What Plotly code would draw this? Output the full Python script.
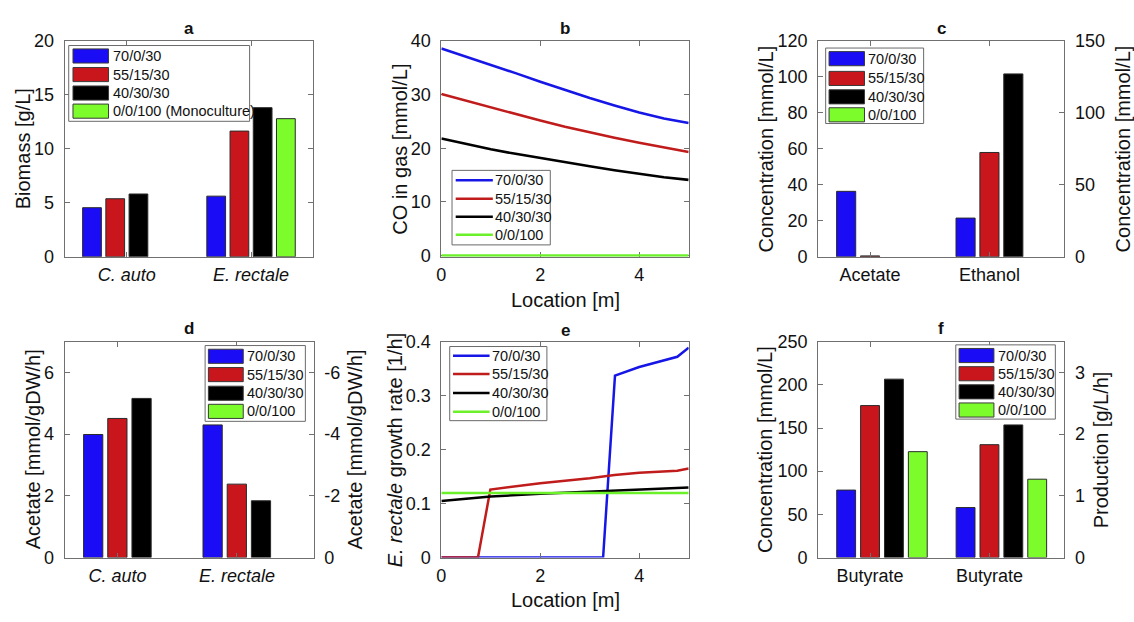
import plotly.graph_objects as go

W, H = 1134, 622
FONT = "Liberation Sans, Arial, Helvetica, sans-serif"

# ---------------- data ----------------
series_labels = ["70/0/30", "55/15/30", "40/30/30", "0/0/100"]
bar_colors = ["#1a0cf5", "#c8161c", "#000000", "#7cfc2a"]
line_colors = ["#1616e6", "#c01c1c", "#000000", "#6cf02a"]

# (a) biomass [g/L]
a_categories = ["C. auto", "E. rectale"]
a_70_0_30 = [4.55, 5.62]
a_55_15_30 = [5.38, 11.65]
a_40_30_30 = [5.82, 13.82]
a_0_0_100 = [None, 12.8]

# (b) CO in gas [mmol/L] vs location [m]
b_location = [0, 0.5, 1, 1.5, 2, 2.5, 3, 3.5, 4, 4.5, 5]
b_70_0_30 = [38.6, 37.1, 35.6, 34.0, 32.4, 30.85, 29.35, 27.95, 26.65, 25.55, 24.7]
b_55_15_30 = [30.1, 28.85, 27.6, 26.35, 25.15, 24.0, 22.95, 21.95, 21.0, 20.1, 19.3]
b_40_30_30 = [21.8, 20.75, 19.8, 18.95, 18.15, 17.4, 16.65, 15.9, 15.2, 14.6, 14.1]
b_0_0_100 = [0, 0, 0, 0, 0, 0, 0, 0, 0, 0, 0]

# (c) concentration [mmol/L]: acetate (left axis), ethanol (right axis)
c_categories = ["Acetate", "Ethanol"]
c_acetate = [36.4, 0.5, None, None]
c_ethanol = [26.9, 72.5, 127.1, None]

# (d) acetate flux [mmol/gDW/h]: C. auto (left), E. rectale (right, uptake)
d_categories = ["C. auto", "E. rectale"]
d_c_auto = [3.99, 4.51, 5.16, None]
d_e_rectale = [-4.30, -2.38, -1.84, None]

# (e) E. rectale growth rate [1/h] vs location [m]
e_x_70_0_30 = [0, 3.27, 3.51, 4.0, 4.77, 5.0]
e_y_70_0_30 = [0, 0, 0.337, 0.353, 0.372, 0.389]
e_x_55_15_30 = [0, 0.74, 0.99, 2, 3, 3.5, 4, 4.77, 5]
e_y_55_15_30 = [0, 0, 0.126, 0.1375, 0.147, 0.153, 0.157, 0.161, 0.165]
e_x_40_30_30 = [0, 1, 2, 3, 3.5, 4, 5]
e_y_40_30_30 = [0.1046, 0.113, 0.118, 0.122, 0.124, 0.1256, 0.1297]
e_x_0_0_100 = [0, 5]
e_y_0_0_100 = [0.1196, 0.1196]

# (f) butyrate: concentration [mmol/L] (left) and production [g/L/h] (right)
f_categories = ["Butyrate", "Butyrate"]
f_concentration = [78.1, 176.0, 206.6, 122.6]
f_production = [0.81, 1.83, 2.15, 1.27]

# ---------------- layout helpers ----------------
cols = [(60, 309.5), (438.3, 686.7), (816.7, 1064)]
rows = [(32, 255), (342.7, 565.7)]


def fx(p):
    return p / W


def fy(p):
    return 1 - p / H


def dom_x(c):
    return [fx(c[0]), fx(c[1])]


def dom_y(r):
    return [fy(r[1]), fy(r[0])]


AX = "#707070"
TICKFONT = dict(family=FONT, size=18, color="#111111")
base = dict(showline=True, linecolor=AX, linewidth=1, ticks="inside", ticklen=5,
            tickcolor=AX, tickwidth=1, showgrid=False, zeroline=False,
            tickfont=TICKFONT, fixedrange=True)
XSO = 2  # x tick label standoff
YSO = 6  # y tick label standoff

fig = go.Figure()
layout = dict(width=W, height=H, margin=dict(l=0, r=0, t=0, b=0),
              paper_bgcolor="white", plot_bgcolor="white", barmode="overlay",
              showlegend=False, font=dict(family=FONT))
shapes = []
annotations = []


def bar_group(xval, values, xaxis, yaxis, slot, width):
    n = 4
    for i, v in enumerate(values):
        if v is None:
            continue
        off = (i - (n - 1) / 2) * slot - width / 2
        fig.add_trace(go.Bar(x=[xval], y=[v], xaxis=xaxis, yaxis=yaxis,
                             offset=off, width=width,
                             marker=dict(color=bar_colors[i], line=dict(color="#2a2a2a", width=1)),
                             showlegend=False, hoverinfo="skip"))


def legend(box, row_centers, sym_x, text_x, labels, colors, kind):
    l, t, r, b = box
    shapes.append(dict(type="rect", xref="paper", yref="paper", x0=fx(l), x1=fx(r),
                       y0=fy(b), y1=fy(t), fillcolor="white", line=dict(color="#6a6a6a", width=1),
                       layer="above"))
    for yc, lab, col in zip(row_centers, labels, colors):
        if kind == "patch":
            shapes.append(dict(type="rect", xref="paper", yref="paper", x0=fx(sym_x[0]), x1=fx(sym_x[1]),
                               y0=fy(yc + 7.3), y1=fy(yc - 7.3), fillcolor=col,
                               line=dict(color="#3a3a3a", width=1), layer="above"))
        else:
            shapes.append(dict(type="line", xref="paper", yref="paper", x0=fx(sym_x[0]), x1=fx(sym_x[1]),
                               y0=fy(yc), y1=fy(yc), line=dict(color=col, width=2.5), layer="above"))
        annotations.append(dict(text=lab, xref="paper", yref="paper", x=fx(text_x), y=fy(yc),
                                xanchor="left", yanchor="middle", showarrow=False,
                                font=dict(family=FONT, size=14.5, color="#111111")))


def text(s, x, y, size=20, angle=0, bold=False):
    annotations.append(dict(text=f"<b>{s}</b>" if bold else s, xref="paper", yref="paper",
                            x=fx(x), y=fy(y), xanchor="center", yanchor="middle",
                            textangle=angle, showarrow=False,
                            font=dict(family=FONT, size=size, color="#111111")))


# ---------------- panel a ----------------
layout["xaxis"] = dict(base, domain=dom_x(cols[0]), anchor="y", range=[0.5, 2.5],
                       tickvals=[1, 2], ticktext=[f"<i>{c}</i>" for c in a_categories],
                       mirror="ticks", ticklabelstandoff=XSO)
layout["yaxis"] = dict(base, domain=dom_y(rows[0]), anchor="x", range=[0, 20],
                       tickvals=[0, 5, 10, 15, 20], mirror="ticks", ticklabelstandoff=YSO)
a_all = [a_70_0_30, a_55_15_30, a_40_30_30, a_0_0_100]
for k in range(2):
    bar_group(k + 1, [s[k] for s in a_all], "x", "y", 0.187, 0.151)
legend((64, 36.7, 245.7, 115), [47.5, 66.7, 85.8, 104.5], (68.3, 104), 106,
       series_labels[:3] + ["0/0/100 (Monoculture)"], bar_colors, "patch")
text("Biomass [g/L]", 17.5, 143.5, angle=-90)
text("a", 184.7, 19, size=17, bold=True)

# ---------------- panel b ----------------
layout["xaxis2"] = dict(base, domain=dom_x(cols[1]), anchor="y2", range=[0, 5],
                        tickvals=[0, 2, 4], mirror="ticks", ticklabelstandoff=XSO,
                        layer="below traces")
layout["yaxis2"] = dict(base, domain=dom_y(rows[0]), anchor="x2", range=[-0.25, 40],
                        tickvals=[0, 10, 20, 30, 40], mirror="ticks", ticklabelstandoff=YSO,
                        layer="below traces")
for ys, col in zip([b_70_0_30, b_55_15_30, b_40_30_30, b_0_0_100], line_colors):
    fig.add_trace(go.Scatter(x=b_location, y=ys, xaxis="x2", yaxis="y2", mode="lines",
                             line=dict(color=col, width=2.6),
                             showlegend=False, hoverinfo="skip", cliponaxis=False))
legend((449, 165.7, 547.7, 242.7), [176, 195, 213.5, 232.3], (452.7, 490), 490,
       series_labels, line_colors, "line")
text("CO in gas [mmol/L]", 396.5, 143.5, angle=-90)
text("Location [m]", 562.5, 299.5)
text("b", 562.5, 19, size=17, bold=True)

# ---------------- panel c ----------------
layout["xaxis3"] = dict(base, domain=dom_x(cols[2]), anchor="y3", range=[0.465, 2.527],
                        tickvals=[0.9, 1.9], ticktext=c_categories, mirror="ticks",
                        ticklabelstandoff=XSO)
layout["yaxis3"] = dict(base, domain=dom_y(rows[0]), anchor="x3", range=[0, 120],
                        tickvals=[0, 20, 40, 60, 80, 100, 120], ticklabelstandoff=YSO)
layout["yaxis7"] = dict(base, domain=dom_y(rows[0]), anchor="x3", overlaying="y3", side="right",
                        range=[0, 150], tickvals=[0, 50, 100, 150], ticklabelstandoff=YSO)
bar_group(1, c_acetate, "x3", "y3", 0.2, 0.16)
bar_group(2, c_ethanol, "x3", "y7", 0.2, 0.16)
legend((824.3, 39.3, 922.7, 117.3), [50.3, 70.7, 89.7, 108.3], (827.7, 863.3), 865,
       series_labels, bar_colors, "patch")
text("Concentration [mmol/L]", 764, 143.5, angle=-90)
text("Concentration [mmol/L]", 1122.5, 143.5, angle=-90)
text("c", 940.3, 19, size=17, bold=True)

# ---------------- panel d ----------------
layout["xaxis4"] = dict(base, domain=dom_x((60, 310)), anchor="y4", range=[0.458, 2.542],
                        tickvals=[0.9, 1.9], ticktext=[f"<i>{c}</i>" for c in d_categories],
                        mirror="ticks", ticklabelstandoff=XSO)
layout["yaxis4"] = dict(base, domain=dom_y(rows[1]), anchor="x4", range=[0, 7],
                        tickvals=[0, 2, 4, 6], ticklabelstandoff=YSO)
layout["yaxis8"] = dict(base, domain=dom_y(rows[1]), anchor="x4", overlaying="y4", side="right",
                        range=[0, -7], tickvals=[0, -2, -4, -6],
                        ticktext=["0", "-2", "-4", "-6"], ticklabelstandoff=YSO)
bar_group(1, d_c_auto, "x4", "y4", 0.2025, 0.161)
bar_group(2, d_e_rectale, "x4", "y8", 0.2025, 0.161)
legend((201, 346.7, 301.7, 425), [357.8, 376.7, 396, 414.7], (204.3, 239.3), 240.7,
       series_labels, bar_colors, "patch")
text("Acetate [mmol/gDW/h]", 29, 454, angle=-90)
text("Acetate [mmol/gDW/h]", 351.7, 454, angle=-90)
text("d", 185, 329, size=17, bold=True)

# ---------------- panel e ----------------
layout["xaxis5"] = dict(base, domain=dom_x(cols[1]), anchor="y5", range=[0, 5],
                        tickvals=[0, 2, 4], mirror="ticks", ticklabelstandoff=XSO)
layout["yaxis5"] = dict(base, domain=dom_y(rows[1]), anchor="x5", range=[0, 0.4],
                        tickvals=[0, 0.1, 0.2, 0.3, 0.4], ticktext=["0", "0.1", "0.2", "0.3", "0.4"],
                        mirror="ticks", ticklabelstandoff=YSO)
for xs, ys, col in zip([e_x_70_0_30, e_x_55_15_30, e_x_40_30_30, e_x_0_0_100],
                       [e_y_70_0_30, e_y_55_15_30, e_y_40_30_30, e_y_0_0_100], line_colors):
    fig.add_trace(go.Scatter(x=xs, y=ys, xaxis="x5", yaxis="y5", mode="lines",
                             line=dict(color=col, width=2.5), showlegend=False, hoverinfo="skip"))
legend((446.7, 347.7, 544.3, 424.3), [357.3, 376, 395.7, 415], (450, 486.7), 487,
       series_labels, line_colors, "line")
text("<i>E. rectale</i> growth rate [1/h]", 391.7, 454, angle=-90)
text("Location [m]", 562.5, 610)
text("e", 562.5, 331, size=17, bold=True)

# ---------------- panel f ----------------
layout["xaxis6"] = dict(base, domain=dom_x(cols[2]), anchor="y6", range=[0.465, 2.527],
                        tickvals=[0.9, 1.9], ticktext=f_categories, mirror="ticks",
                        ticklabelstandoff=XSO)
layout["yaxis6"] = dict(base, domain=dom_y(rows[1]), anchor="x6", range=[0, 250],
                        tickvals=[0, 50, 100, 150, 200, 250], ticklabelstandoff=YSO)
layout["yaxis9"] = dict(base, domain=dom_y(rows[1]), anchor="x6", overlaying="y6", side="right",
                        range=[0, 3.5], tickvals=[0, 1, 2, 3], ticklabelstandoff=YSO)
bar_group(1, f_concentration, "x6", "y6", 0.2, 0.158)
bar_group(2, f_production, "x6", "y9", 0.2, 0.158)
legend((955, 346, 1055, 422.7), [357, 375.8, 394.5, 413.3], (958.3, 993.3), 995,
       series_labels, bar_colors, "patch")
text("Concentration [mmol/L]", 764, 454, angle=-90)
text("Production [g/L/h]", 1100.8, 454, angle=-90)
text("f", 940.3, 329, size=17, bold=True)

layout["shapes"] = shapes
layout["annotations"] = annotations
fig.update_layout(**layout)
fig.write_html("out.html", config={"displayModeBar": False})
